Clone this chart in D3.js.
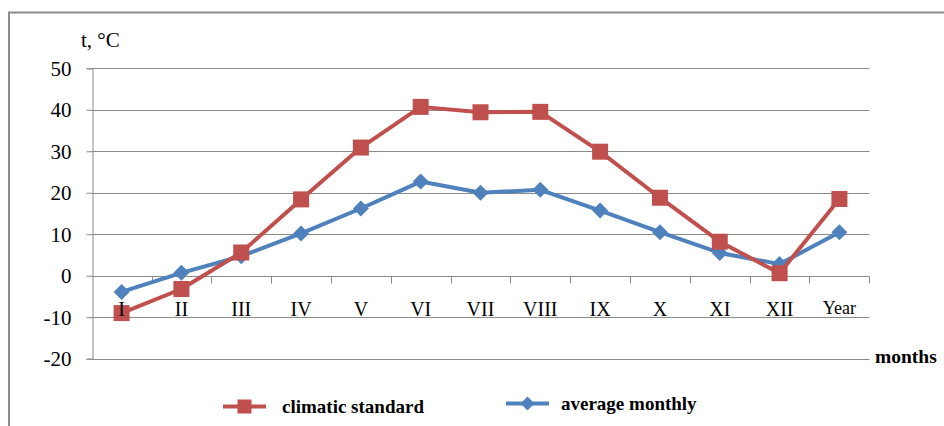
<!DOCTYPE html>
<html>
<head>
<meta charset="utf-8">
<script src="https://cdn.jsdelivr.net/npm/d3@7/dist/d3.min.js"></script>
<style>
  html, body { margin: 0; padding: 0; background: #fff; }
  svg { display: block; }
</style>
</head>
<body>
<svg id="chart" width="944" height="426"></svg>
<script>
// Monthly air temperature, °C
const categories = ["I", "II", "III", "IV", "V", "VI", "VII", "VIII", "IX", "X", "XI", "XII", "Year"];
const climaticStandard = [-9.0, -3.2, 5.6, 18.4, 30.9, 40.7, 39.4, 39.5, 29.9, 18.8, 8.2, 0.6, 18.5];
const averageMonthly = [-3.9, 0.7, 4.7, 10.2, 16.2, 22.7, 20.0, 20.7, 15.7, 10.5, 5.5, 2.8, 10.5];
const yTicks = [-20, -10, 0, 10, 20, 30, 40, 50];
const seriesNames = ["climatic standard", "average monthly"];

const RED = "#C0504D", BLUE = "#4F81BD", GRID = "#8A8A8A";
const FONT = "'Liberation Serif', 'Times New Roman', Times, 'DejaVu Serif', serif";

const svg = d3.select("#chart");

// Outer frame (top and left edges)
svg.append("path")
  .attr("d", "M9,426 V12.5 H944")
  .attr("fill", "none").attr("stroke", "#8C8C8C").attr("stroke-width", 2);

const plot = { left: 91.7, right: 869.3, top: 68.3, bottom: 358.7 };

const x = d3.scaleBand().domain(categories).range([plot.left, plot.right]).padding(0);
const y = d3.scaleLinear().domain([-20, 50]).range([plot.bottom, plot.top]);

// Horizontal gridlines
svg.append("g").selectAll("line").data(yTicks).join("line")
  .attr("x1", plot.left).attr("x2", plot.right)
  .attr("y1", d => Math.round(y(d)) + 0.5).attr("y2", d => Math.round(y(d)) + 0.5)
  .attr("stroke", GRID).attr("stroke-width", 1);

// Value axis
const yAxis = svg.append("g")
  .attr("transform", `translate(${Math.round(plot.left) + 0.5},0)`)
  .call(d3.axisLeft(y).tickValues(yTicks).tickSize(6).tickPadding(15).tickFormat(d => String(d)));
yAxis.attr("font-family", FONT).attr("font-size", 21);
yAxis.select(".domain").attr("stroke", GRID);
yAxis.selectAll(".tick line").attr("stroke", GRID);
yAxis.selectAll(".tick text").attr("fill", "#000").attr("dy", "0.34em");

// Category axis along the zero line
const zeroY = Math.round(y(0)) + 0.5;
const xAxis = svg.append("g").attr("transform", `translate(0,${zeroY})`);
xAxis.append("path").attr("d", `M${plot.left},0H${plot.right}`).attr("stroke", GRID);
// tick marks at category boundaries
const bounds = categories.map(c => x(c) + x.bandwidth());
xAxis.selectAll("line.b").data(bounds).join("line")
  .attr("class", "b")
  .attr("x1", d => Math.round(d) + 0.5).attr("x2", d => Math.round(d) + 0.5)
  .attr("y1", 0).attr("y2", 7)
  .attr("stroke", GRID);

// Series lines and markers
const line = d3.line()
  .x((d, i) => x(categories[i]) + x.bandwidth() / 2)
  .y(d => y(d));

svg.append("path").datum(averageMonthly)
  .attr("d", line).attr("fill", "none").attr("stroke", BLUE)
  .attr("stroke-width", 4).attr("stroke-linejoin", "round");
svg.append("g").selectAll("path").data(averageMonthly).join("path")
  .attr("transform", (d, i) => `translate(${x(categories[i]) + x.bandwidth() / 2},${y(d)})`)
  .attr("d", "M0,-8 L8,0 L0,8 L-8,0 Z").attr("fill", BLUE);

svg.append("path").datum(climaticStandard)
  .attr("d", line).attr("fill", "none").attr("stroke", RED)
  .attr("stroke-width", 4).attr("stroke-linejoin", "round");
svg.append("g").selectAll("rect").data(climaticStandard).join("rect")
  .attr("x", (d, i) => x(categories[i]) + x.bandwidth() / 2 - 8)
  .attr("y", d => y(d) - 8)
  .attr("width", 16).attr("height", 16).attr("fill", RED);

// Category labels
svg.append("g").attr("font-family", FONT).selectAll("text").data(categories).join("text")
  .attr("x", d => x(d) + x.bandwidth() / 2)
  .attr("y", d => d === "Year" ? 314 : 316)
  .attr("text-anchor", "middle")
  .attr("font-size", d => d === "Year" ? 18 : 20)
  .attr("fill", "#000")
  .text(d => d);

// Axis titles
svg.append("text").attr("x", 81).attr("y", 47).attr("font-family", FONT)
  .attr("font-size", 21).text("t, °C");
svg.append("text").attr("x", 875).attr("y", 363).attr("font-family", FONT)
  .attr("font-size", 19.5).attr("font-weight", "bold").text("months");

// Legend
const legend = svg.append("g").attr("font-family", FONT);
const legendItems = [
  { name: seriesNames[0], color: RED, x0: 223, y0: 406.5, textX: 282, marker: "square" },
  { name: seriesNames[1], color: BLUE, x0: 506, y0: 403.5, textX: 561, marker: "diamond" }
];
legendItems.forEach(it => {
  const g = legend.append("g");
  g.append("line").attr("x1", it.x0).attr("x2", it.x0 + 43)
    .attr("y1", it.y0).attr("y2", it.y0).attr("stroke", it.color).attr("stroke-width", 4);
  const cx = it.x0 + 21.5;
  if (it.marker === "square") {
    g.append("rect").attr("x", cx - 7).attr("y", it.y0 - 7).attr("width", 14).attr("height", 14).attr("fill", it.color);
  } else {
    g.append("path").attr("transform", `translate(${cx},${it.y0})`)
      .attr("d", "M0,-7 L7,0 L0,7 L-7,0 Z").attr("fill", it.color);
  }
  g.append("text").attr("x", it.textX).attr("y", it.y0 + 6)
    .attr("font-size", 19).attr("font-weight", "bold").attr("fill", "#000").text(it.name);
});
</script>
</body>
</html>
